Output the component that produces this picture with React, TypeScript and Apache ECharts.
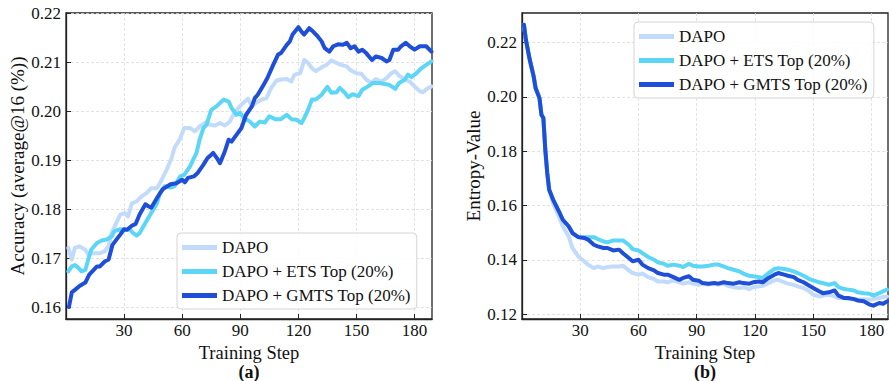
import React, { useEffect, useRef } from 'react';
import * as echarts from 'echarts';

// ---------- Series names ----------
const seriesNames = ['DAPO', 'DAPO + ETS Top (20%)', 'DAPO + GMTS Top (20%)'];

// ---------- (a) Accuracy ----------
const accDapoSteps = [1.2,3,4.6,7,10,11.5,14,17.5,20,22,23.5,26,28,30.4,32,34,36.5,39,41.6,44,47,49,52,54.5,56,59,61,64,66.6,69,72,74,77,79.5,82,84.6,86,89,91.5,94,96,98,101,103.5,106,108.7,111,114,116.4,118,121,123,125,127,129,132,134.5,137,139.7,142,145,147,150,152.5,155,157.7,160,163,165.5,168,170,172,175,177.5,180,182.7,184.4,186.4,188.7];
const accDapoValues = [0.1721,0.1697,0.1721,0.1724,0.1717,0.1707,0.1710,0.1710,0.1714,0.1724,0.1751,0.1772,0.1789,0.1792,0.1785,0.1812,0.1816,0.1826,0.1833,0.1843,0.1843,0.1857,0.1881,0.1904,0.1925,0.1945,0.1966,0.1966,0.1959,0.1969,0.1977,0.1973,0.1971,0.1976,0.1971,0.1979,0.1990,0.2007,0.2017,0.2026,0.2010,0.2017,0.2024,0.2027,0.2048,0.2063,0.2065,0.2066,0.2061,0.2075,0.2078,0.2105,0.2099,0.2088,0.2082,0.2090,0.2095,0.2104,0.2099,0.2095,0.2092,0.2084,0.2078,0.2077,0.2065,0.2058,0.2066,0.2061,0.2068,0.2078,0.2082,0.2073,0.2065,0.2061,0.2051,0.2041,0.2039,0.2046,0.2051];

const accEtsSteps = [1.2,3,4.6,6.4,8,10,11.5,13,16,18.4,21,23.5,25,28,30.4,33,34.7,36.5,38,40,42.5,45,47,48.5,51,54,56,59,61,64,66,67.4,69,71,72.6,75,77.7,79.5,81.5,84,85.5,88,89.8,92,95,97.5,100,102.7,105,108,111,114,116.4,119,121.6,123,125,127,129,132,135,137,139.7,141.4,144,145.7,148,151,153,156,158.6,162,164.6,167,170,172,175,176.6,178.4,181,183.5,186,188.7];
const accEtsValues = [0.1673,0.1683,0.1686,0.1680,0.1673,0.1676,0.1697,0.1717,0.1731,0.1736,0.1738,0.1744,0.1755,0.1759,0.1758,0.1758,0.1751,0.1746,0.1751,0.1765,0.1782,0.1799,0.1812,0.1833,0.1847,0.1844,0.1847,0.1867,0.1870,0.1887,0.1904,0.1915,0.1942,0.1966,0.1973,0.2003,0.2010,0.2017,0.2024,0.2020,0.2007,0.1993,0.1997,0.1986,0.1979,0.1969,0.1979,0.1977,0.1990,0.1984,0.1984,0.1993,0.1984,0.1983,0.1976,0.1986,0.2003,0.2024,0.2024,0.2034,0.2050,0.2038,0.2039,0.2048,0.2038,0.2029,0.2035,0.2031,0.2044,0.2051,0.2058,0.2058,0.2056,0.2054,0.2046,0.2058,0.2065,0.2075,0.2070,0.2078,0.2088,0.2095,0.2102];

const accGmtsSteps = [1.5,3,4.6,7,10,12,16,17.5,20,22,24,28,30,31.5,34,36,38,41,42.5,44,47,50,54,57,60,61.4,63,66,68,71,73,76,78,79.5,82,84,85.5,88,90.6,93,96,97.5,99,102,104,107,109.5,111,114,115.6,117,120,121.6,123,125.6,127.6,130,132,133.6,136,138,140.5,143,145,147,149,151,153,155,158,160,163,165.5,167,169,171.5,173,175.4,177.5,180,182.7,186,188.7];
const accGmtsValues = [0.1600,0.1630,0.1635,0.1643,0.1650,0.1666,0.1683,0.1683,0.1693,0.1697,0.1727,0.1748,0.1759,0.1758,0.1766,0.1770,0.1789,0.1810,0.1806,0.1803,0.1823,0.1841,0.1851,0.1853,0.1860,0.1855,0.1864,0.1867,0.1874,0.1891,0.1904,0.1915,0.1904,0.1894,0.1918,0.1942,0.1938,0.1952,0.1966,0.1993,0.2010,0.2027,0.2034,0.2054,0.2068,0.2095,0.2116,0.2119,0.2136,0.2143,0.2157,0.2172,0.2163,0.2157,0.2170,0.2163,0.2153,0.2143,0.2129,0.2122,0.2133,0.2137,0.2136,0.2140,0.2129,0.2133,0.2122,0.2126,0.2119,0.2105,0.2112,0.2109,0.2102,0.2105,0.2126,0.2126,0.2133,0.2140,0.2133,0.2126,0.2133,0.2133,0.2122];

const accTicks = [0.16, 0.17, 0.18, 0.19, 0.2, 0.21, 0.22];

// ---------- (b) Entropy ----------
const entSteps = [1,2,4,6,7,9,10,11,12,13,14,16,19,21,24,26,29,32,34,37,39,42,44,47,50,52,55,57,60,62,65,68,70,73,75,78,81,83,86,88,91,93,96,99,101,104,106,109,112,114,117,119,122,124,127,130,132,135,137,140,142,145,148,150,153,155,158,161,163,166,168,171,173,176,179,181,184,186,188];
const entDapoValues = [0.2265,0.2210,0.2136,0.2075,0.2032,0.1995,0.1934,0.1922,0.1805,0.1720,0.1658,0.1609,0.1560,0.1524,0.1487,0.1444,0.1413,0.1395,0.1383,0.1370,0.1376,0.1370,0.1374,0.1376,0.1376,0.1379,0.1362,0.1352,0.1346,0.1350,0.1337,0.1330,0.1321,0.1321,0.1318,0.1325,0.1318,0.1313,0.1318,0.1313,0.1309,0.1313,0.1309,0.1315,0.1309,0.1313,0.1305,0.1300,0.1297,0.1300,0.1293,0.1300,0.1303,0.1305,0.1315,0.1325,0.1327,0.1318,0.1313,0.1309,0.1303,0.1297,0.1285,0.1272,0.1266,0.1269,0.1272,0.1266,0.1260,0.1260,0.1256,0.1256,0.1254,0.1256,0.1254,0.1256,0.1260,0.1264,0.1266];
const entEtsValues = [0.2265,0.2210,0.2136,0.2075,0.2032,0.1995,0.1934,0.1922,0.1805,0.1720,0.1658,0.1622,0.1579,0.1548,0.1524,0.1499,0.1484,0.1484,0.1484,0.1484,0.1477,0.1468,0.1465,0.1472,0.1472,0.1472,0.1456,0.1440,0.1435,0.1425,0.1411,0.1401,0.1391,0.1386,0.1379,0.1383,0.1379,0.1374,0.1386,0.1379,0.1376,0.1376,0.1379,0.1383,0.1383,0.1376,0.1370,0.1364,0.1358,0.1350,0.1342,0.1340,0.1337,0.1334,0.1352,0.1367,0.1370,0.1367,0.1364,0.1358,0.1352,0.1342,0.1330,0.1325,0.1318,0.1315,0.1309,0.1315,0.1300,0.1293,0.1291,0.1288,0.1281,0.1278,0.1276,0.1269,0.1278,0.1285,0.1291];
const entGmtsValues = [0.2265,0.2210,0.2136,0.2075,0.2032,0.1995,0.1934,0.1922,0.1805,0.1720,0.1658,0.1622,0.1579,0.1548,0.1524,0.1499,0.1484,0.1481,0.1475,0.1456,0.1450,0.1444,0.1444,0.1435,0.1438,0.1425,0.1407,0.1395,0.1401,0.1383,0.1370,0.1362,0.1352,0.1346,0.1346,0.1337,0.1327,0.1334,0.1340,0.1327,0.1324,0.1315,0.1313,0.1315,0.1313,0.1318,0.1315,0.1313,0.1318,0.1315,0.1313,0.1318,0.1321,0.1318,0.1334,0.1346,0.1352,0.1346,0.1342,0.1337,0.1327,0.1318,0.1305,0.1297,0.1285,0.1278,0.1281,0.1288,0.1269,0.1260,0.1260,0.1256,0.1251,0.1248,0.1236,0.1232,0.1242,0.1239,0.1248];

const entTicks = [0.12, 0.14, 0.16, 0.18, 0.2, 0.22];
const stepTicks = [30, 60, 90, 120, 150, 180];

const colors = ['#c3dbfb', '#5bd6f6', '#1f4fd8'];

const pairs = (xs: number[], ys: number[]) => xs.map((x, i) => [x, ys[i]]);

export default function App() {
  const ref = useRef<HTMLDivElement>(null);

  useEffect(() => {
    const chart = echarts.init(ref.current!, null, { renderer: 'svg' });
    const font = 'Liberation Serif';
    const axisColor = '#222';

    const xAxisBase = (gridIndex: number, max: number) => ({
      type: 'value',
      gridIndex,
      min: 0,
      max,
      name: 'Training Step',
      nameLocation: 'middle',
      nameGap: 21,
      nameTextStyle: { fontFamily: font, fontSize: 18.5, lineHeight: 18, color: '#111' },
      axisLine: { show: true, onZero: false, lineStyle: { color: axisColor, width: 1.3 } },
      axisTick: { show: true, inside: true, length: 5, customValues: stepTicks, lineStyle: { color: axisColor, width: 1 } },
      axisLabel: { customValues: stepTicks, fontFamily: font, fontSize: 17, color: '#111', margin: 3 },
      splitLine: { show: true, lineStyle: { color: '#dcdcdc', type: [3, 2], width: 0.8 } },
    });

    const yAxisBase = (gridIndex: number, min: number, max: number, ticks: number[], name: string) => ({
      type: 'value',
      gridIndex,
      min,
      max,
      name,
      nameLocation: 'middle',
      nameGap: 38,
      nameTextStyle: { fontFamily: font, fontSize: 19, color: '#111' },
      axisLine: { show: true, onZero: false, lineStyle: { color: axisColor, width: 1.3 } },
      axisTick: { show: true, inside: true, length: 5, customValues: ticks, lineStyle: { color: axisColor, width: 1 } },
      axisLabel: { customValues: ticks, fontFamily: font, fontSize: 17, color: '#111', margin: 5, formatter: (v: number) => v.toFixed(2) },
      splitLine: { show: true, lineStyle: { color: '#dcdcdc', type: [3, 2], width: 0.8 } },
    });

    const line = (name: string, idx: number, data: number[][], colorIdx: number) => ({
      type: 'line',
      name,
      xAxisIndex: idx,
      yAxisIndex: idx,
      data,
      showSymbol: false,
      symbol: 'none',
      color: colors[colorIdx],
      lineStyle: { width: 4, color: colors[colorIdx], cap: 'round', join: 'round' },
      clip: true,
      z: 2 + colorIdx,
    });

    const legendBase = {
      orient: 'vertical',
      icon: 'rect',
      itemWidth: 35,
      itemHeight: 5,
      itemGap: 7,
      padding: [6, 6, 5, 5],
      borderColor: '#d4d4d4',
      borderWidth: 1,
      borderRadius: 4,
      backgroundColor: 'rgba(255,255,255,0.85)',
      textStyle: { fontFamily: font, fontSize: 17, color: '#111' },
      data: seriesNames,
      selectedMode: false,
    };

    chart.setOption({
      animation: false,
      backgroundColor: '#fff',
      grid: [
        { left: 66, right: 457, top: 13, bottom: 62, show: true, borderColor: axisColor, borderWidth: 1.3, backgroundColor: 'transparent' },
        { left: 522, right: 1, top: 13, bottom: 62, show: true, borderColor: axisColor, borderWidth: 1.3, backgroundColor: 'transparent' },
      ],
      xAxis: [xAxisBase(0, 189), xAxisBase(1, 188.5)],
      yAxis: [
        yAxisBase(0, 0.15755, 0.2201, accTicks, 'Accuracy (average@16 (%))'),
        yAxisBase(1, 0.1183, 0.2308, entTicks, 'Entropy-Value'),
      ],
      legend: [
        { ...legendBase, left: 177, top: 233 },
        { ...legendBase, left: 634, top: 22 },
      ],
      series: [
        line(seriesNames[0], 0, pairs(accDapoSteps, accDapoValues), 0),
        line(seriesNames[1], 0, pairs(accEtsSteps, accEtsValues), 1),
        line(seriesNames[2], 0, pairs(accGmtsSteps, accGmtsValues), 2),
        line(seriesNames[0], 1, pairs(entSteps, entDapoValues), 0),
        line(seriesNames[1], 1, pairs(entSteps, entEtsValues), 1),
        line(seriesNames[2], 1, pairs(entSteps, entGmtsValues), 2),
      ],
      graphic: [
        { type: 'text', x: 249, y: 371.5, style: { text: '(a)', font: `bold 18px "${font}"`, lineHeight: 17, fill: '#111', textAlign: 'center', textVerticalAlign: 'middle' } },
        { type: 'text', x: 705, y: 371.5, style: { text: '(b)', font: `bold 18px "${font}"`, lineHeight: 17, fill: '#111', textAlign: 'center', textVerticalAlign: 'middle' } },
      ],
    });

    return () => chart.dispose();
  }, []);

  return (
    <div
      ref={ref}
      style={{ position: 'absolute', left: 0, top: 0, width: 889, height: 381, background: '#fff' }}
    />
  );
}
